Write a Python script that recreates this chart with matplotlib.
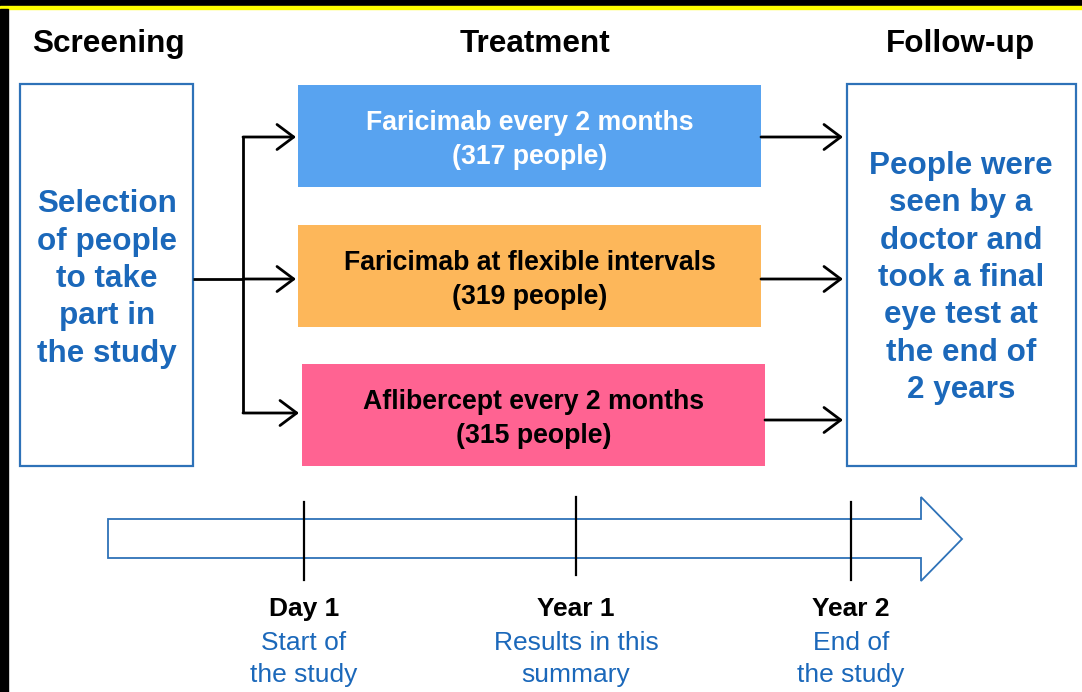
import matplotlib
matplotlib.use("Agg")
import matplotlib.pyplot as plt
from matplotlib.patches import Rectangle, Polygon

plt.rcParams['font.family'] = ['Liberation Sans', 'DejaVu Sans']

# texts of the diagram
headers = ['Screening', 'Treatment', 'Follow-up']
screening_text = 'Selection\nof people\nto take\npart in\nthe study'
followup_text = 'People were\nseen by a\ndoctor and\ntook a final\neye test at\nthe end of\n2 years'
arm_names = ['Faricimab every 2 months', 'Faricimab at flexible intervals', 'Aflibercept every 2 months']
arm_people = [317, 319, 315]
time_points = ['Day 1', 'Year 1', 'Year 2']
time_notes = ['Start of\nthe study', 'Results in this\nsummary', 'End of\nthe study']

BLUE_TXT = '#1B68BA'
BLUE_EDGE = '#2E72B8'
arm_colors = ['#58A3F0', '#FDB75A', '#FF6392']
arm_txt = ['white', 'black', 'black']

fig = plt.figure(figsize=(10.82, 6.92), dpi=100)
ax = fig.add_axes([0, 0, 1, 1])
ax.set_xlim(0, 1082)
ax.set_ylim(692, 0)
ax.axis('off')

# frame bits from the page the chart was cut from
ax.add_patch(Rectangle((0, 0), 1082, 6, color='black', zorder=5))
ax.add_patch(Rectangle((0, 6), 1082, 3, color='#FFFF00', zorder=5))
ax.add_patch(Rectangle((0, 9), 8, 692, color='black', zorder=5))

# column headers
for x, h in zip([108, 535, 960], headers):
    ax.text(x, 44, h, ha='center', va='center', fontsize=22.7, fontweight='bold')

# screening and follow-up boxes
ax.add_patch(Rectangle((20, 84), 173, 382, fill=False, ec=BLUE_EDGE, lw=1.6))
ax.text(107, 279, screening_text, ha='center', va='center', fontsize=22.6,
        fontweight='bold', color=BLUE_TXT, linespacing=1.32)
ax.add_patch(Rectangle((847, 84), 229, 382, fill=False, ec=BLUE_EDGE, lw=1.6))
ax.text(961, 278, followup_text, ha='center', va='center', fontsize=22.6,
        fontweight='bold', color=BLUE_TXT, linespacing=1.32)

# treatment arms
arm_x = [298, 298, 302]
arm_y = [85, 225, 364]
arr_y = [137, 279, 420]
for i in range(3):
    ax.add_patch(Rectangle((arm_x[i], arm_y[i]), 463, 102, color=arm_colors[i], lw=0))
    ax.text(arm_x[i] + 232, arm_y[i] + 55, f'{arm_names[i]}\n({arm_people[i]} people)',
            ha='center', va='center', fontsize=19.2, fontweight='bold',
            color=arm_txt[i], linespacing=1.38)

arrow_kw = dict(arrowstyle='->,head_length=0.6,head_width=0.45', lw=2, color='black',
                shrinkA=0, shrinkB=0, mutation_scale=20)

# branching arrows from screening
ax.plot([193, 243], [279, 279], color='black', lw=2, solid_capstyle='butt')
ax.plot([243, 243], [137, 413], color='black', lw=2, solid_capstyle='butt')
for y, xe in zip([137, 279, 413], [296, 296, 299]):
    ax.annotate('', xy=(xe, y), xytext=(243, y), arrowprops=arrow_kw)

# arrows into follow-up
for i in range(3):
    ax.annotate('', xy=(843, arr_y[i]), xytext=(arm_x[i] + 463, arr_y[i]), arrowprops=arrow_kw)

# timeline arrow
ax.add_patch(Polygon([(108, 519), (921, 519), (921, 497), (962, 539), (921, 581),
                      (921, 558), (108, 558)], closed=True, fc='white', ec=BLUE_EDGE, lw=1.3))
tick_x = [304, 576, 851]
tick_top = [502, 497, 502]
for i in range(3):
    ax.plot([tick_x[i], tick_x[i]], [tick_top[i], tick_top[i] + 78], color='black', lw=1.6)
    ax.text(tick_x[i], 609, time_points[i], ha='center', va='center', fontsize=19,
            fontweight='bold')
    ax.text(tick_x[i], 659, time_notes[i], ha='center', va='center', fontsize=19,
            color=BLUE_TXT, linespacing=1.42)

fig.savefig('out.png', dpi=100)
